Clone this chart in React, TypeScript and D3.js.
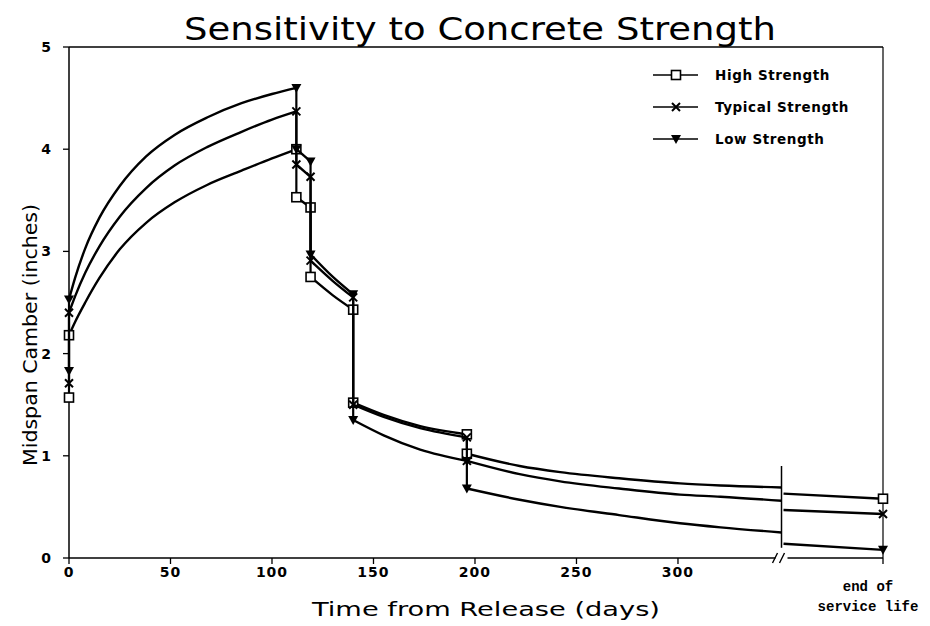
import React from 'react';
import * as d3 from 'd3';

// days of each curve piece (the last piece sits after the axis break, 401 = end of service life)
const segmentDays = [
  [0, 3, 8, 15, 25, 38, 52, 68, 85, 100, 112],
  [112, 119],
  [119, 130, 140],
  [140, 155, 173, 196],
  [196, 222, 242, 271, 301, 321, 351],
  [352, 401],
];

const highValues = [
  [2.18, 2.31, 2.5, 2.74, 3.02, 3.28, 3.48, 3.65, 3.79, 3.91, 4.0],
  [3.53, 3.43],
  [2.75, 2.57, 2.43],
  [1.52, 1.4, 1.29, 1.21],
  [1.02, 0.9, 0.84, 0.78, 0.73, 0.71, 0.69],
  [0.63, 0.58],
];
const typicalValues = [
  [2.4, 2.56, 2.79, 3.05, 3.34, 3.62, 3.84, 4.02, 4.17, 4.29, 4.37],
  [3.85, 3.73],
  [2.91, 2.71, 2.55],
  [1.5, 1.38, 1.27, 1.18],
  [0.95, 0.82, 0.75, 0.68, 0.62, 0.6, 0.56],
  [0.47, 0.43],
];
const lowValues = [
  [2.53, 2.74, 3.03, 3.33, 3.64, 3.93, 4.14, 4.31, 4.45, 4.54, 4.6],
  [4.0, 3.88],
  [2.97, 2.75, 2.58],
  [1.35, 1.2, 1.06, 0.95],
  [0.68, 0.57, 0.5, 0.42, 0.34, 0.3, 0.25],
  [0.14, 0.08],
];
// value right at release, before the jump
const initialValues = { high: 1.57, typical: 1.71, low: 1.83 };

const seriesNames = ['High Strength', 'Typical Strength', 'Low Strength'];
const seriesKeys = ['high', 'typical', 'low'] as const;

const xTicks = [0, 50, 100, 150, 200, 250, 300];
const yTicks = [0, 1, 2, 3, 4, 5];
const breakDay = 351;
const endDay = 401;

const margin = { top: 47, right: 47, bottom: 68, left: 69 };
const W = 930;
const H = 626;

const x = d3.scaleLinear().domain([0, endDay]).range([margin.left, W - margin.right]);
const y = d3.scaleLinear().domain([0, 5]).range([H - margin.bottom, margin.top]);

const curve = d3.line<[number, number]>()
  .x(d => x(d[0]))
  .y(d => y(d[1]))
  .curve(d3.curveMonotoneX);

function Marker({ kind, cx, cy }: { kind: string; cx: number; cy: number }) {
  if (kind === 'high') {
    return <rect x={cx - 4.5} y={cy - 4.5} width={9} height={9} fill="white" stroke="black" strokeWidth={1.6} />;
  }
  if (kind === 'typical') {
    return (
      <path d={`M${cx - 4},${cy - 4}L${cx + 4},${cy + 4}M${cx - 4},${cy + 4}L${cx + 4},${cy - 4}`}
        stroke="black" strokeWidth={2} />
    );
  }
  return <path d={`M${cx - 5},${cy - 4}L${cx + 5},${cy - 4}L${cx},${cy + 5}Z`} fill="black" />;
}

export default function App() {
  const valuesFor = { high: highValues, typical: typicalValues, low: lowValues };
  const x0 = y(0);
  const breakX = x(breakDay);

  return (
    <svg width={W} height={H} style={{ position: 'absolute', left: 0, top: 0, background: 'white' }}
      fontFamily="'DejaVu Sans', sans-serif">
      {/* title */}
      <text x={480} y={40} textAnchor="middle" fontSize={32} textLength={592} lengthAdjust="spacingAndGlyphs">
        Sensitivity to Concrete Strength
      </text>

      {/* frame */}
      <line x1={x(0)} x2={x(endDay)} y1={y(5)} y2={y(5)} stroke="black" strokeWidth={1.5} />
      <line x1={x(endDay)} x2={x(endDay)} y1={y(5)} y2={x0} stroke="black" strokeWidth={1.2} />
      <line x1={x(0)} x2={x(0)} y1={y(5)} y2={x0} stroke="black" strokeWidth={1.5} />
      <line x1={x(0)} x2={breakX - 6} y1={x0} y2={x0} stroke="black" strokeWidth={1.5} />
      <line x1={breakX + 6} x2={x(endDay)} y1={x0} y2={x0} stroke="black" strokeWidth={1.5} />
      <path d={`M${breakX - 9},${x0 + 5}L${breakX - 4},${x0 - 5}M${breakX - 2},${x0 + 5}L${breakX + 3},${x0 - 5}`}
        stroke="black" strokeWidth={1.4} />
      <line x1={breakX} x2={breakX} y1={y(0.9)} y2={y(0.1)} stroke="black" strokeWidth={1.5} />

      {/* y axis */}
      {yTicks.map(t => (
        <g key={t}>
          <line x1={x(0) - 6} x2={x(0)} y1={y(t)} y2={y(t)} stroke="black" strokeWidth={1.3} />
          <text x={51} y={y(t) + 5} textAnchor="end" fontSize={14} fontWeight="bold">{t}</text>
        </g>
      ))}
      <text transform={`translate(37,${335}) rotate(-90)`} textAnchor="middle" fontSize={19}
        textLength={262} lengthAdjust="spacingAndGlyphs">
        Midspan Camber (inches)
      </text>

      {/* x axis */}
      {xTicks.map(t => (
        <g key={t}>
          <line x1={x(t)} x2={x(t)} y1={x0} y2={x0 + 6} stroke="black" strokeWidth={1.3} />
          <text x={x(t)} y={x0 + 19} textAnchor="middle" fontSize={14} fontWeight="bold" letterSpacing={1}>{t}</text>
        </g>
      ))}
      <line x1={x(endDay)} x2={x(endDay)} y1={x0} y2={x0 + 6} stroke="black" strokeWidth={1.3} />
      <text x={868} y={591} textAnchor="middle" fontSize={14} fontWeight="bold"
        fontFamily="'Liberation Mono', monospace">end of</text>
      <text x={868} y={611} textAnchor="middle" fontSize={14} fontWeight="bold"
        fontFamily="'Liberation Mono', monospace">service life</text>
      <text x={486} y={616} textAnchor="middle" fontSize={20} textLength={348} lengthAdjust="spacingAndGlyphs">
        Time from Release (days)
      </text>

      {/* series */}
      {seriesKeys.map(key => {
        const vals = valuesFor[key];
        const segs = segmentDays.map((days, i) => days.map((d, j) => [d, vals[i][j]] as [number, number]));
        const markers: [number, number][] = [[0, initialValues[key]]];
        segs.forEach((s, i) => {
          if (i < segs.length - 1) markers.push(s[0]);
          if (i < segs.length - 2 || i === segs.length - 1) markers.push(s[s.length - 1]);
        });
        return (
          <g key={key}>
            <line x1={x(0)} x2={x(0)} y1={y(initialValues[key])} y2={y(segs[0][0][1])} stroke="black" strokeWidth={2.2} />
            {segs.map((s, i) => (
              <path key={i} d={curve(s) || ''} fill="none" stroke="black" strokeWidth={2.4} />
            ))}
            {segs.slice(0, segs.length - 2).map((s, i) => (
              <line key={'c' + i} x1={x(s[s.length - 1][0])} x2={x(segs[i + 1][0][0])}
                y1={y(s[s.length - 1][1])} y2={y(segs[i + 1][0][1])} stroke="black" strokeWidth={2.2} />
            ))}
            {markers.map((m, i) => (
              <Marker key={i} kind={key} cx={x(m[0])} cy={y(m[1])} />
            ))}
          </g>
        );
      })}

      {/* legend */}
      {seriesKeys.map((key, i) => {
        const ly = 75 + i * 32;
        return (
          <g key={key}>
            <line x1={653} x2={698} y1={ly} y2={ly} stroke="black" strokeWidth={1.5} />
            <Marker kind={key} cx={676} cy={ly} />
            <text x={715} y={ly + 5} fontSize={13.5} fontWeight="bold" letterSpacing={0.6}>{seriesNames[i]}</text>
          </g>
        );
      })}
    </svg>
  );
}
